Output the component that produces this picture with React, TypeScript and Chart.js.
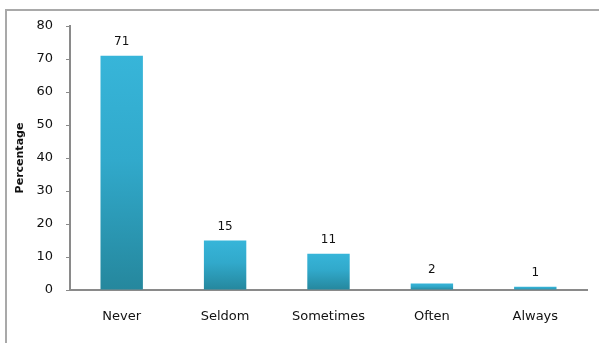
import React, { useEffect, useRef } from "react";
import { Chart, registerables } from "chart.js";

Chart.register(...registerables);

const categories = ["Never", "Seldom", "Sometimes", "Often", "Always"];
const percentages = [71, 15, 11, 2, 1];
const yMin = 0;
const yMax = 80;
const yStep = 10;
const yTitle = "Percentage";

const FONT = "'DejaVu Sans', Verdana, sans-serif";
const AXIS_GRAY = "#8a8a8a";
const TEXT = "#111111";

// Writes each bar's value centred a little above its top edge.
const valueLabels = {
  id: "valueLabels",
  afterDatasetsDraw(chart: Chart) {
    const { ctx } = chart;
    const meta = chart.getDatasetMeta(0);
    const values = chart.data.datasets[0].data as number[];
    ctx.save();
    ctx.font = `12px ${FONT}`;
    ctx.fillStyle = TEXT;
    ctx.textAlign = "center";
    ctx.textBaseline = "middle";
    meta.data.forEach((bar: any, i: number) => {
      ctx.fillText(String(values[i]), bar.x, bar.y - 14);
    });
    ctx.restore();
  },
};

export default function App() {
  const canvasRef = useRef<HTMLCanvasElement | null>(null);

  useEffect(() => {
    const canvas = canvasRef.current;
    if (!canvas) return;

    const chart = new Chart(canvas, {
      type: "bar",
      data: {
        labels: categories,
        datasets: [
          {
            data: percentages,
            // vertical gradient per bar: bright cyan at the top, teal at the base
            backgroundColor: (ctx: any) => {
              const c = ctx.chart;
              if (!c.chartArea || ctx.type !== "data" || !c.scales.y) return "#33b0d4";
              const ys = c.scales.y;
              const top = ys.getPixelForValue(ctx.raw as number);
              const base = ys.getPixelForValue(0);
              if (!isFinite(top) || !isFinite(base) || base - top < 0.5) return "#36b4d8";
              const g = c.ctx.createLinearGradient(0, top, 0, base);
              g.addColorStop(0, "#37b5d9");
              g.addColorStop(0.45, "#31a9cb");
              g.addColorStop(1, "#25879d");
              return g;
            },
            borderWidth: 0,
            barPercentage: 0.41,
            categoryPercentage: 1,
          },
        ],
      },
      options: {
        responsive: false,
        animation: false,
        layout: { padding: { top: 26, right: 12, bottom: 0, left: 0 } },
        plugins: {
          legend: { display: false },
          tooltip: { enabled: false },
        },
        scales: {
          x: {
            grid: { display: false, drawTicks: false, tickLength: 0 },
            border: { display: true, color: AXIS_GRAY, width: 2 },
            ticks: {
              color: TEXT,
              font: { family: FONT, size: 13 },
              padding: 19,
              maxRotation: 0,
            },
            afterFit: (scale: any) => {
              scale.height = 53;
            },
          },
          y: {
            min: yMin,
            max: yMax,
            grid: {
              drawOnChartArea: false,
              drawTicks: true,
              tickLength: 4,
              color: AXIS_GRAY,
              lineWidth: 1,
            },
            border: { display: true, color: AXIS_GRAY, width: 2 },
            ticks: {
              stepSize: yStep,
              color: TEXT,
              font: { family: FONT, size: 13 },
              padding: 13,
            },
            title: {
              display: true,
              text: yTitle,
              color: TEXT,
              font: { family: FONT, size: 11, weight: "bold" },
              padding: { top: 14, bottom: 0 },
            },
            afterFit: (scale: any) => {
              scale.width = 70;
            },
          },
        },
      },
      plugins: [valueLabels],
    });

    return () => chart.destroy();
  }, []);

  return (
    <div
      style={{
        position: "fixed",
        left: 0,
        top: 0,
        width: 599,
        height: 343,
        background: "#ffffff",
        overflow: "hidden",
      }}
    >
      <div
        style={{
          position: "absolute",
          left: 5,
          top: 9,
          width: 620,
          height: 360,
          borderTop: "2px solid #a9a9a9",
          borderLeft: "2px solid #a9a9a9",
        }}
      />
      <canvas
        ref={canvasRef}
        width={599}
        height={343}
        style={{ position: "absolute", left: 0, top: 0, display: "block" }}
      />
    </div>
  );
}
